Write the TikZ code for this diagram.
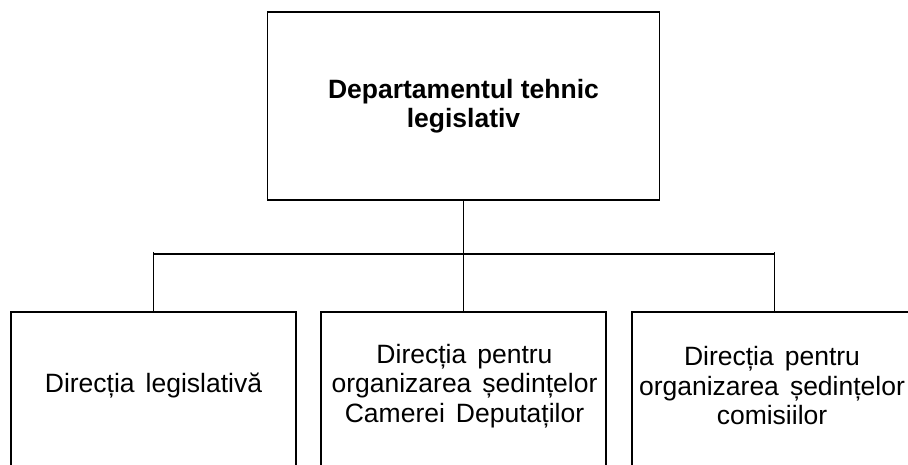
\documentclass[tikz,border=0pt]{standalone}
\usepackage{fontspec}
\setmainfont{Liberation Sans}
\newfontfamily\regfont[WordSpace=1.5]{Liberation Sans}
\begin{document}
\begin{tikzpicture}[x=1pt,y=1pt,
  box/.style={draw=black, line width=1.5pt, fill=white, inner sep=0pt, align=center},
  topbox/.style={box, minimum width=392pt, minimum height=188pt,
     font=\bfseries\fontsize{26.5}{29}\selectfont},
  subbox/.style={box, minimum width=285pt, minimum height=160pt},
  subtext/.style={font=\regfont\fontsize{26.5}{29.5}\selectfont, align=center, inner sep=0pt},
  link/.style={draw=black, line width=1.5pt}]
\useasboundingbox (0,0) rectangle (908,464);
\clip (0,0) rectangle (908,464);
\fill[white] (0,0) rectangle (908,464);
\node[topbox] (top) at (463.5,358) {Departamentul tehnic\\legislativ};
\node[subbox] (left) at (153.5,72) {};
\node[subbox] (mid) at (463.5,72) {};
\node[subbox] (right) at (774.5,72) {};
\node[subtext] (ltext) at (153.5,78) {Direcția legislativă};
\node[subtext] (mtext) at (464.5,78) {Direcția pentru\\organizarea ședințelor\\Camerei Deputaților};
\node[subtext] (rtext) at (772,78) {Direcția pentru\\organizarea ședințelor\\comisiilor};
\coordinate (barL) at (left.north |- 0,210);
\coordinate (barR) at (right.north |- 0,210);
\coordinate (tickL) at (left.north |- 0,212);
\coordinate (tickR) at (right.north |- 0,212);
\draw[link] (barL) -- (barR);
\draw[link] (top.south) -- (mid.north);
\draw[link] (tickL) -- (left.north);
\draw[link] (tickR) -- (right.north);
\end{tikzpicture}
\end{document}
